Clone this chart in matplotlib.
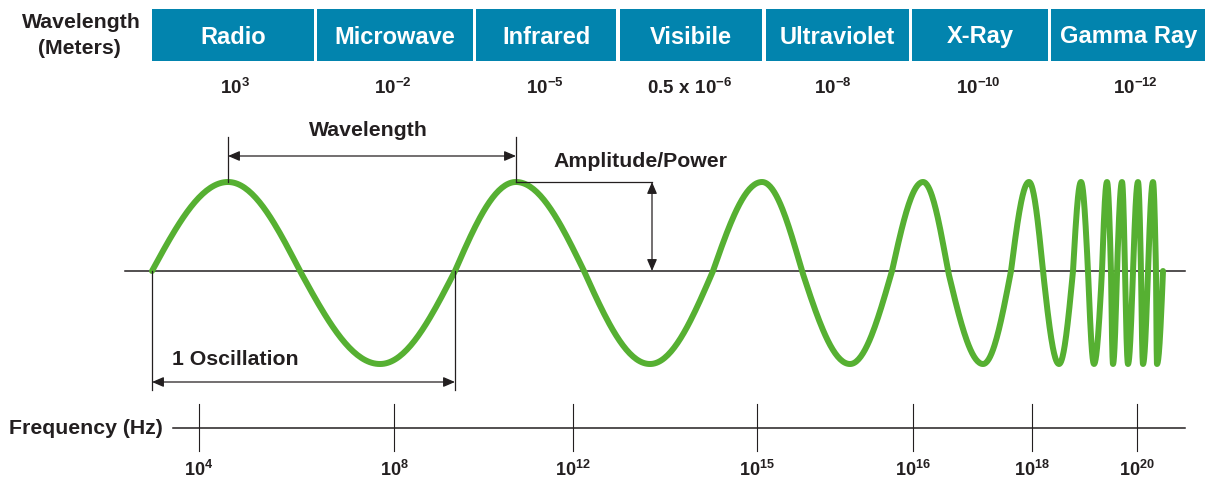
import numpy as np
import matplotlib.pyplot as plt

plt.rcParams['font.family'] = ['Liberation Sans', 'DejaVu Sans']
plt.rcParams['mathtext.fontset'] = 'custom'
plt.rcParams['mathtext.rm'] = 'Liberation Sans:bold'
plt.rcParams['mathtext.bf'] = 'Liberation Sans:bold'
plt.rcParams['mathtext.it'] = 'Liberation Sans:bold'

# spectrum bands and their wavelengths
bands = ['Radio', 'Microwave', 'Infrared', 'Visibile', 'Ultraviolet', 'X-Ray', 'Gamma Ray']
wavelengths = [r'$10^{3}$', r'$10^{-2}$', r'$10^{-5}$', r'$0.5\ x\ 10^{-6}$',
               r'$10^{-8}$', r'$10^{-10}$', r'$10^{-12}$']
freq_labels = [r'$10^{4}$', r'$10^{8}$', r'$10^{12}$', r'$10^{15}$',
               r'$10^{16}$', r'$10^{18}$', r'$10^{20}$']

# wave key points (zero crossings / crests / troughs)
wave_x = [152, 228, 300, 380, 455, 516, 584, 650, 713, 762, 802, 850, 892, 923,
          948, 983, 1011, 1029, 1043, 1059, 1073, 1081, 1088, 1094, 1102, 1107,
          1111, 1113, 1117, 1122, 1125, 1128, 1133, 1138, 1141, 1143, 1148, 1153,
          1156, 1157, 1163]
wave_level = [0, 1, 0, -1] * 10 + [0]
amp_up = 89
amp_down = 93

# layout (pixel coords)
box_left = [152, 317, 476, 620, 766, 912, 1051]
box_right = [314, 473, 616, 762, 909, 1048, 1207]
val_x = [235, 393, 545, 690, 833, 978, 1135]
tick_x = [199, 394, 573, 757, 913, 1032, 1137]
base_y = 272
freq_y = 429

teal = '#0284AE'
green = '#56B032'
ink = '#231F20'
fs = 15.3

fig = plt.figure(figsize=(12.05, 4.81), dpi=100)
ax = fig.add_axes([0, 0, 1, 1])
ax.set_xlim(0, 1205)
ax.set_ylim(481, 0)
ax.axis('off')

# header
ax.text(81, 22, 'Wavelength', ha='center', va='center', fontsize=fs, fontweight='bold', color=ink)
ax.text(79, 48, '(Meters)', ha='center', va='center', fontsize=fs, fontweight='bold', color=ink)
for name, l, r in zip(bands, box_left, box_right):
    ax.add_patch(plt.Rectangle((l, 10), r - l, 52, color=teal, lw=0))
    ax.text((l + r) / 2, 37, name, ha='center', va='center', fontsize=17,
            fontweight='bold', color='white')
for lab, x in zip(wavelengths, val_x):
    ax.text(x, 88, lab, ha='center', va='center', fontsize=13.5, color=ink)

# wave
xs, ys = [], []
for i in range(len(wave_x) - 1):
    x0, x1 = wave_x[i], wave_x[i + 1]
    l0, l1 = wave_level[i], wave_level[i + 1]
    t = np.linspace(0, 1, 40)
    if l0 == 0:
        lv = l1
        y = lv * np.sin(np.pi / 2 * t)
    else:
        lv = l0
        y = lv * np.cos(np.pi / 2 * t)
    amp = amp_up if lv > 0 else amp_down
    xs.append(x0 + (x1 - x0) * t)
    ys.append(base_y - y * amp)
xs = np.concatenate(xs)
ys = np.concatenate(ys)

ax.plot([125, 1185], [base_y, base_y], color=ink, lw=1.1)
ax.plot(xs, ys, color=green, lw=4.3, solid_capstyle='round', solid_joinstyle='round')

arrow = dict(arrowstyle='<|-|>,head_length=0.7,head_width=0.3', color=ink, lw=0.9,
             shrinkA=0, shrinkB=0)

# wavelength marker
crest1, crest2 = wave_x[1], wave_x[5]
top = base_y - amp_up
ax.plot([crest1, crest1], [138, top], color=ink, lw=0.9)
ax.plot([crest2, crest2], [138, top], color=ink, lw=0.9)
ax.annotate('', xy=(crest2, 157), xytext=(crest1, 157), arrowprops=arrow)
ax.text(368, 131, 'Wavelength', ha='center', va='center',
        fontsize=fs, fontweight='bold', color=ink)

# amplitude marker
ax.plot([crest2, 652], [top, top], color=ink, lw=0.9)
ax.annotate('', xy=(652, base_y), xytext=(652, top), arrowprops=arrow)
ax.text(553, 162, 'Amplitude/Power', ha='left', va='center', fontsize=fs,
        fontweight='bold', color=ink)

# oscillation marker
x_a, x_b = wave_x[0], wave_x[4]
ax.plot([x_a, x_a], [base_y, 391], color=ink, lw=0.9)
ax.plot([x_b, x_b], [base_y, 391], color=ink, lw=0.9)
ax.annotate('', xy=(x_b, 383), xytext=(x_a, 383), arrowprops=arrow)
ax.text(172, 360, '1 Oscillation', ha='left', va='center', fontsize=fs,
        fontweight='bold', color=ink)

# frequency axis
ax.text(163, freq_y, 'Frequency (Hz)', ha='right', va='center', fontsize=fs,
        fontweight='bold', color=ink)
ax.plot([173, 1185], [freq_y, freq_y], color=ink, lw=1.1)
for lab, x in zip(freq_labels, tick_x):
    ax.plot([x, x], [405, 452], color=ink, lw=0.8)
    ax.text(x, 470, lab, ha='center', va='center', fontsize=13, color=ink)

plt.savefig('out.png', dpi=100)
